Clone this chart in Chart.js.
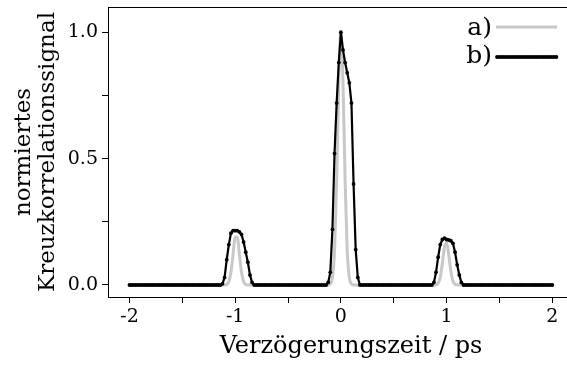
<!DOCTYPE html>
<html>
<head>
<meta charset="utf-8">
<script src="https://cdn.jsdelivr.net/npm/chart.js@4.4.0/dist/chart.umd.min.js"></script>
<style>
  html, body { margin: 0; padding: 0; background: #fff; }
  canvas { display: block; }
</style>
</head>
<body>
<canvas id="xcorr" width="567" height="365"></canvas>
<script>
// delay axis in ps, one sample every 0.02 ps
const delay = [
  -2.00, -1.98, -1.96, -1.94, -1.92, -1.90, -1.88, -1.86, -1.84, -1.82,
  -1.80, -1.78, -1.76, -1.74, -1.72, -1.70, -1.68, -1.66, -1.64, -1.62,
  -1.60, -1.58, -1.56, -1.54, -1.52, -1.50, -1.48, -1.46, -1.44, -1.42,
  -1.40, -1.38, -1.36, -1.34, -1.32, -1.30, -1.28, -1.26, -1.24, -1.22,
  -1.20, -1.18, -1.16, -1.14, -1.12, -1.10, -1.08, -1.06, -1.04, -1.02,
  -1.00, -0.98, -0.96, -0.94, -0.92, -0.90, -0.88, -0.86, -0.84, -0.82,
  -0.80, -0.78, -0.76, -0.74, -0.72, -0.70, -0.68, -0.66, -0.64, -0.62,
  -0.60, -0.58, -0.56, -0.54, -0.52, -0.50, -0.48, -0.46, -0.44, -0.42,
  -0.40, -0.38, -0.36, -0.34, -0.32, -0.30, -0.28, -0.26, -0.24, -0.22,
  -0.20, -0.18, -0.16, -0.14, -0.12, -0.10, -0.08, -0.06, -0.04, -0.02,
   0.00,  0.02,  0.04,  0.06,  0.08,  0.10,  0.12,  0.14,  0.16,  0.18,
   0.20,  0.22,  0.24,  0.26,  0.28,  0.30,  0.32,  0.34,  0.36,  0.38,
   0.40,  0.42,  0.44,  0.46,  0.48,  0.50,  0.52,  0.54,  0.56,  0.58,
   0.60,  0.62,  0.64,  0.66,  0.68,  0.70,  0.72,  0.74,  0.76,  0.78,
   0.80,  0.82,  0.84,  0.86,  0.88,  0.90,  0.92,  0.94,  0.96,  0.98,
   1.00,  1.02,  1.04,  1.06,  1.08,  1.10,  1.12,  1.14,  1.16,  1.18,
   1.20,  1.22,  1.24,  1.26,  1.28,  1.30,  1.32,  1.34,  1.36,  1.38,
   1.40,  1.42,  1.44,  1.46,  1.48,  1.50,  1.52,  1.54,  1.56,  1.58,
   1.60,  1.62,  1.64,  1.66,  1.68,  1.70,  1.72,  1.74,  1.76,  1.78,
   1.80,  1.82,  1.84,  1.86,  1.88,  1.90,  1.92,  1.94,  1.96,  1.98,
   2.00
];

// a) grey trace
const signalA = [
  0, 0, 0, 0, 0, 0, 0, 0, 0, 0,
  0, 0, 0, 0, 0, 0, 0, 0, 0, 0,
  0, 0, 0, 0, 0, 0, 0, 0, 0, 0,
  0, 0, 0, 0, 0, 0, 0, 0, 0, 0,
  0, 0, 0, 0, 0, 0, 0.002, 0.013, 0.05, 0.12,
  0.19, 0.19, 0.12, 0.05, 0.013, 0.002, 0, 0, 0, 0,
  0, 0, 0, 0, 0, 0, 0, 0, 0, 0,
  0, 0, 0, 0, 0, 0, 0, 0, 0, 0,
  0, 0, 0, 0, 0, 0, 0, 0, 0, 0,
  0, 0, 0, 0, 0, 0.004, 0.03, 0.135, 0.41, 0.80,
  1.0, 0.80, 0.41, 0.135, 0.03, 0.004, 0, 0, 0, 0,
  0, 0, 0, 0, 0, 0, 0, 0, 0, 0,
  0, 0, 0, 0, 0, 0, 0, 0, 0, 0,
  0, 0, 0, 0, 0, 0, 0, 0, 0, 0,
  0, 0, 0, 0, 0, 0, 0.007, 0.03, 0.086, 0.15,
  0.168, 0.12, 0.055, 0.016, 0.003, 0, 0, 0, 0, 0,
  0, 0, 0, 0, 0, 0, 0, 0, 0, 0,
  0, 0, 0, 0, 0, 0, 0, 0, 0, 0,
  0, 0, 0, 0, 0, 0, 0, 0, 0, 0,
  0, 0, 0, 0, 0, 0, 0, 0, 0, 0,
  0
];

// b) black trace with markers
const signalB = [
  0, 0, 0, 0, 0, 0, 0, 0, 0, 0,
  0, 0, 0, 0, 0, 0, 0, 0, 0, 0,
  0, 0, 0, 0, 0, 0, 0, 0, 0, 0,
  0, 0, 0, 0, 0, 0, 0, 0, 0, 0,
  0, 0, 0, 0, 0.005, 0.03, 0.10, 0.16, 0.205, 0.215,
  0.215, 0.215, 0.21, 0.20, 0.17, 0.13, 0.09, 0.04, 0.01, 0,
  0, 0, 0, 0, 0, 0, 0, 0, 0, 0,
  0, 0, 0, 0, 0, 0, 0, 0, 0, 0,
  0, 0, 0, 0, 0, 0, 0, 0, 0, 0,
  0, 0, 0, 0, 0.01, 0.05, 0.22, 0.52, 0.72, 0.88,
  1.0, 0.93, 0.88, 0.84, 0.80, 0.72, 0.40, 0.14, 0.03, 0,
  0, 0, 0, 0, 0, 0, 0, 0, 0, 0,
  0, 0, 0, 0, 0, 0, 0, 0, 0, 0,
  0, 0, 0, 0, 0, 0, 0, 0, 0, 0,
  0, 0, 0, 0, 0.01, 0.05, 0.11, 0.16, 0.18, 0.185,
  0.18, 0.178, 0.175, 0.165, 0.13, 0.08, 0.04, 0.01, 0, 0,
  0, 0, 0, 0, 0, 0, 0, 0, 0, 0,
  0, 0, 0, 0, 0, 0, 0, 0, 0, 0,
  0, 0, 0, 0, 0, 0, 0, 0, 0, 0,
  0, 0, 0, 0, 0, 0, 0, 0, 0, 0,
  0
];

const xTicks = [-2, -1.5, -1, -0.5, 0, 0.5, 1, 1.5, 2];
const yTicks = [0, 0.25, 0.5, 0.75, 1];
const seriesNames = ['a)', 'b)'];
const xTitle = 'Verzögerungszeit / ps';

const serif = "'DejaVu Serif', 'Liberation Serif', serif";
const grey = '#c8c8c8';

// top frame line, x axis caption and the small key in the upper right corner
const frameAndKey = {
  id: 'frameAndKey',
  afterDraw(chart) {
    const { ctx, chartArea: a } = chart;
    ctx.save();
    ctx.strokeStyle = '#000';
    ctx.lineWidth = 1;
    ctx.beginPath();
    ctx.moveTo(a.left, a.top + 0.5);
    ctx.lineTo(a.right, a.top + 0.5);
    ctx.stroke();

    ctx.fillStyle = '#000';
    ctx.textBaseline = 'alphabetic';
    ctx.textAlign = 'center';
    ctx.font = '24px ' + serif;
    ctx.fillText(xTitle, 351, 353);

    ctx.font = '25px ' + serif;
    ctx.textAlign = 'right';
    const rows = [[35, 27], [63, 57]];
    chart.data.datasets.forEach((ds, i) => {
      const [base, ly] = rows[i];
      ctx.fillText(seriesNames[i], 492, base);
      ctx.strokeStyle = ds.borderColor;
      ctx.lineWidth = ds.borderWidth;
      ctx.beginPath();
      ctx.moveTo(496, ly);
      ctx.lineTo(557, ly);
      ctx.stroke();
      if (ds.pointRadius > 0) {
        ctx.fillStyle = ds.pointBackgroundColor;
        for (let px = 497; px <= 557; px += 2.2) {
          ctx.beginPath();
          ctx.arc(px, ly, ds.pointRadius, 0, Math.PI * 2);
          ctx.fill();
        }
        ctx.fillStyle = '#000';
      }
    });
    ctx.restore();
  }
};

new Chart(document.getElementById('xcorr'), {
  type: 'line',
  data: {
    datasets: [
      {
        label: seriesNames[0],
        data: delay.map((t, i) => ({ x: t, y: signalA[i] })),
        borderColor: grey,
        borderWidth: 3,
        pointRadius: 0,
        cubicInterpolationMode: 'monotone',
        order: 2
      },
      {
        label: seriesNames[1],
        data: delay.map((t, i) => ({ x: t, y: signalB[i] })),
        borderColor: '#000',
        borderWidth: 2.2,
        pointRadius: 1.9,
        pointBackgroundColor: '#000',
        pointBorderWidth: 0,
        order: 1
      }
    ]
  },
  options: {
    responsive: false,
    animation: false,
    layout: { autoPadding: false, padding: { top: 7, left: 0, right: 0, bottom: 0 } },
    plugins: { legend: { display: false }, tooltip: { enabled: false } },
    scales: {
      x: {
        type: 'linear',
        min: -2.203,
        max: 2.139,
        afterBuildTicks: (s) => { s.ticks = xTicks.map(v => ({ value: v })); },
        afterFit: (s) => { s.height = 68; s.paddingLeft = 0; s.paddingRight = 0; },
        border: { display: true, color: '#000', width: 1 },
        grid: { drawOnChartArea: false, tickLength: 6, color: '#000', tickColor: '#000' },
        ticks: {
          autoSkip: false,
          maxRotation: 0,
          padding: 3,
          color: '#000',
          font: { family: serif, size: 19 },
          callback: (v) => Number.isInteger(v) ? String(v) : ''
        }
      },
      y: {
        min: -0.0475,
        max: 1.10,
        afterBuildTicks: (s) => { s.ticks = yTicks.map(v => ({ value: v })); },
        afterFit: (s) => { s.width = 108; s.paddingTop = 0; s.paddingBottom = 0; },
        border: { display: true, color: '#000', width: 1 },
        grid: { drawOnChartArea: false, tickLength: 6, color: '#000', tickColor: '#000' },
        ticks: {
          autoSkip: false,
          padding: 4,
          color: '#000',
          font: { family: serif, size: 19 },
          callback: (v) => (v * 2) % 1 === 0 ? v.toFixed(1) : ''
        },
        title: {
          display: true,
          text: ['normiertes', 'Kreuzkorrelationssignal'],
          color: '#000',
          font: { family: serif, size: 23, lineHeight: 1.05 },
          padding: { top: 12, bottom: 0 }
        }
      }
    }
  },
  plugins: [frameAndKey]
});
</script>
</body>
</html>
